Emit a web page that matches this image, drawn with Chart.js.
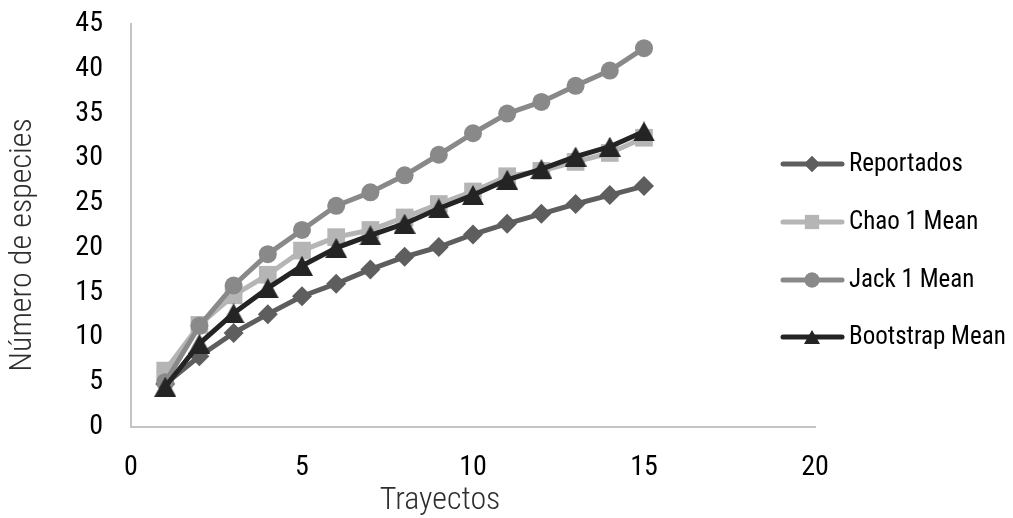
<!DOCTYPE html>
<html>
<head>
<meta charset="utf-8">
<script src="https://cdn.jsdelivr.net/npm/chart.js@4/dist/chart.umd.min.js"></script>
<style>
  html, body { margin: 0; padding: 0; background: #ffffff; }
  #wrap { width: 1013px; height: 518px; }
</style>
</head>
<body>
<div id="wrap"><canvas id="c" width="1013" height="518"></canvas></div>
<script>
// Species accumulation by number of transects
const trayectos = [1, 2, 3, 4, 5, 6, 7, 8, 9, 10, 11, 12, 13, 14, 15];
const reportados = [4.8, 7.9, 10.5, 12.6, 14.6, 16.0, 17.6, 19.0, 20.1, 21.5, 22.7, 23.8, 24.9, 25.9, 26.9];
const chao1Mean = [6.3, 11.4, 14.7, 17.0, 19.7, 21.2, 22.0, 23.4, 24.9, 26.3, 28.0, 28.6, 29.6, 30.6, 32.3];
const jack1Mean = [5.0, 11.3, 15.8, 19.3, 22.0, 24.7, 26.2, 28.1, 30.4, 32.8, 35.0, 36.3, 38.1, 39.8, 42.3];
const bootstrapMean = [4.5, 9.3, 12.7, 15.5, 18.0, 20.0, 21.4, 22.7, 24.4, 25.9, 27.6, 28.8, 30.2, 31.3, 33.0];

const seriesNames = ['Reportados', 'Chao 1 Mean', 'Jack 1 Mean', 'Bootstrap Mean'];
const xTickValues = [0, 5, 10, 15, 20];
const yTickValues = [0, 5, 10, 15, 20, 25, 30, 35, 40, 45];
const xTitle = 'Trayectos';
const yTitle = 'Número de especies';

const NARROW = '"Roboto Condensed", "Liberation Sans", Arial, sans-serif';
const colors = { rep: '#5e5e5e', chao: '#b5b5b5', jack: '#898989', boot: '#242424' };

// Upright triangle centred on its bounding box
function triangleMarker(w, h, color) {
  const c = document.createElement('canvas');
  c.width = w; c.height = h;
  const g = c.getContext('2d');
  g.fillStyle = color;
  g.beginPath();
  g.moveTo(w / 2, 0);
  g.lineTo(w, h);
  g.lineTo(0, h);
  g.closePath();
  g.fill();
  return c;
}
const triBig = triangleMarker(22, 20, colors.boot);
const triSmall = triangleMarker(16, 14, colors.boot);

const toPoints = vals => trayectos.map((t, i) => ({ x: t, y: vals[i] }));

function lineSet(label, vals, color, style, radius, order) {
  return {
    label, data: toPoints(vals), order,
    borderColor: color, backgroundColor: color,
    borderWidth: 5, tension: 0,
    pointStyle: style, pointRadius: radius, pointHoverRadius: radius,
    pointBorderWidth: 0, pointBackgroundColor: color, pointBorderColor: color
  };
}

const datasets = [
  lineSet(seriesNames[0], reportados, colors.rep, 'rectRot', 10, 3),
  lineSet(seriesNames[1], chao1Mean, colors.chao, 'rect', 12.5, 2),
  lineSet(seriesNames[2], jack1Mean, colors.jack, 'circle', 9, 1),
  lineSet(seriesNames[3], bootstrapMean, colors.boot, triBig, 11, 0)
];

const legendMarkers = [
  { style: 'rectRot', r: 8 },
  { style: 'rect', r: 10 },
  { style: 'circle', r: 7.5 },
  { style: triSmall, r: 8 }
];

// Legend and axis titles drawn on the canvas
const decorations = {
  id: 'decorations',
  afterDraw(chart) {
    const ctx = chart.ctx;
    ctx.save();
    // axis titles
    ctx.fillStyle = '#2e2e2e';
    ctx.font = '300 32px ' + NARROW;
    ctx.textAlign = 'center';
    ctx.textBaseline = 'middle';
    ctx.fillText(xTitle, 440, 501);
    ctx.save();
    ctx.translate(23, 245);
    ctx.rotate(-Math.PI / 2);
    ctx.fillText(yTitle, 0, 0);
    ctx.restore();

    // legend
    const ys = [164, 222, 280, 337];
    chart.data.datasets.forEach((ds, i) => {
      const y = ys[i];
      ctx.strokeStyle = ds.borderColor;
      ctx.lineWidth = 5;
      ctx.lineCap = 'round';
      ctx.beginPath();
      ctx.moveTo(783, y);
      ctx.lineTo(842, y);
      ctx.stroke();
      const m = legendMarkers[i];
      ctx.fillStyle = ds.borderColor;
      if (typeof m.style === 'string') {
        Chart.helpers.drawPoint(ctx, { pointStyle: m.style, radius: m.r, rotation: 0, borderWidth: 0 }, 812, y);
        ctx.fill();
      } else {
        ctx.drawImage(m.style, 812 - m.style.width / 2, y - m.style.height / 2);
      }
      ctx.fillStyle = '#000000';
      ctx.font = '25px ' + NARROW;
      ctx.textAlign = 'left';
      ctx.textBaseline = 'middle';
      ctx.fillText(ds.label, 849, y + 1);
    });
    ctx.restore();
  }
};

new Chart(document.getElementById('c'), {
  type: 'line',
  data: { datasets },
  options: {
    responsive: false,
    animation: false,
    devicePixelRatio: 1,
    layout: { padding: { top: 24, right: 198, bottom: 0, left: 0 } },
    plugins: { legend: { display: false }, tooltip: { enabled: false } },
    elements: { line: { borderCapStyle: 'round', borderJoinStyle: 'round' } },
    scales: {
      x: {
        type: 'linear', min: 0, max: 20,
        afterBuildTicks: s => { s.ticks = xTickValues.map(v => ({ value: v })); },
        afterFit: s => { s.height = 91; s.paddingLeft = 0; s.paddingRight = 0; },
        grid: { display: false, drawTicks: false },
        border: { display: true, color: '#c4c4c4', width: 2 },
        ticks: { padding: 24, color: '#000000', font: { family: NARROW, size: 28 } }
      },
      y: {
        type: 'linear', min: 0, max: 45,
        afterBuildTicks: s => { s.ticks = yTickValues.map(v => ({ value: v })); },
        afterFit: s => { s.width = 131; s.paddingTop = 0; s.paddingBottom = 0; },
        grid: { display: false, drawTicks: false },
        border: { display: true, color: '#c4c4c4', width: 2 },
        ticks: { padding: 28, color: '#000000', font: { family: NARROW, size: 28 } }
      }
    }
  },
  plugins: [decorations]
});
</script>
</body>
</html>
